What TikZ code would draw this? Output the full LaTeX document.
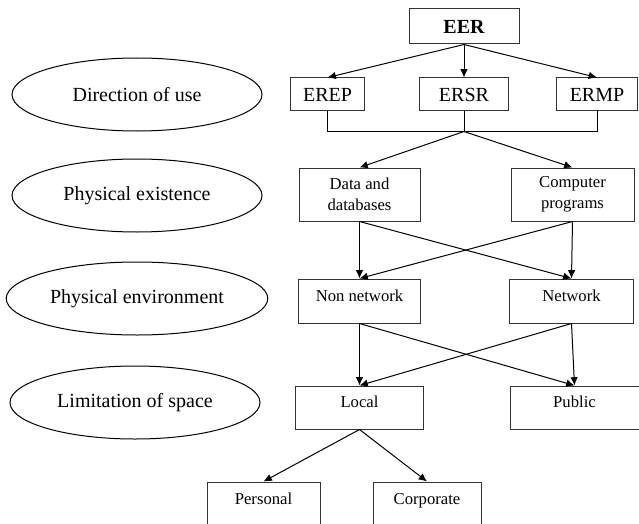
\documentclass[tikz,border=0pt]{standalone}
\usepackage{fontspec}
\setmainfont{Liberation Serif}
\usetikzlibrary{positioning}
\usetikzlibrary{shapes.geometric, arrows.meta}

\tikzset{
	box/.style={draw=black!80, rectangle},
	topbox/.style={box, font=\fontsize{12}{14}\selectfont, minimum height=19.8pt},
	midbox/.style={box, font=\fontsize{10}{12.6}\selectfont},
	lowbox/.style={midbox, text height=7pt, text depth=7pt},
	oval/.style={draw, ellipse, font=\fontsize{12}{14}\selectfont,
		minimum width=150pt, minimum height=43.8pt},
	arr/.style={-{Latex[length=5pt,width=4.5pt]}}
}

\begin{document}
\begin{tikzpicture}[x=0.6pt, y=-0.6pt, line width=0.6pt]
			\useasboundingbox (0,0) rectangle (639,523);

			% Left column
			\node [oval] (use) at (137,94.5) {Direction of use};
			\node [oval] (exist) at (137,195.5) {Physical existence};
			\node [oval] (env) at (137,298.5) {Physical environment};
			\node [oval] (space) at (135,402.5) {Limitation of space};

			% EER
			\node [topbox,
				font=\fontsize{12}{14}\selectfont\bfseries,
				minimum width=66pt,
				minimum height=21pt
				] (eer) at (464,26.5) {EER};

			% Direction of use
			\node [topbox,
				minimum width=53.4pt,
				below=19.8pt of eer
				] (ersr) {ERSR};
			\node [topbox,
				minimum width=44.4pt,
				left=32.4pt of ersr
				] (erep) {EREP};
			\node [topbox,
				minimum width=48.6pt,
				right=28.2pt of ersr
				] (ermp) {ERMP};

			% Physical existence
			\node [midbox,
				align=center,
				minimum width=72.6pt,
				minimum height=31.8pt
				] (data) at (359.5,194.5) {Data and\\databases};
			\node [midbox,
				align=center,
				minimum width=73.8pt,
				minimum height=31.8pt,
				right=54pt of data
				] (prog) {Computer\\programs};

			% Physical environment
			\node [lowbox,
				minimum width=73.2pt,
				minimum height=26.4pt,
				below=34.2pt of data
				] (nonnet) {Non network};
			\node [lowbox,
				minimum width=74.4pt,
				minimum height=26.4pt,
				right=52.8pt of nonnet
				] (net) {Network};

			% Limitation of space
			\node [lowbox,
				minimum width=76.8pt,
				minimum height=25.8pt,
				below=37.2pt of nonnet
				] (local) {Local};
			\node [lowbox,
				minimum width=77.4pt,
				minimum height=25.8pt,
				right=51.3pt of local
				] (public) {Public};

			% Kinds of local
			\node [lowbox,
				text depth=8.4pt,
				minimum width=67.8pt,
				minimum height=28.8pt
				] (personal) at (263.5,506) {Personal};
			\node [lowbox,
				text depth=8.4pt,
				minimum width=64.8pt,
				minimum height=28.8pt
				] (corporate) at (427,506) {Corporate};

			% Arrows
			\draw[arr] (eer.south) -- (erep.north);
			\draw[arr] (eer.south) -- (ersr.north);
			\draw[arr] (eer.south) -- (ermp.north);

			\path (ersr.south) ++(0,20) coordinate (join);
			\draw (erep.south) |- (join) -| (ermp.south);
			\draw (ersr.south) -- (join);
			\draw[arr] (join) -- (data.north);
			\draw[arr] (join) -- (prog.north);

			\draw[arr] (data.south) -- (nonnet.north);
			\draw[arr] (data.south) -- (net.north);
			\draw[arr] (prog.south) -- (net.north);
			\draw[arr] (prog.south) -- (nonnet.north);

			\draw[arr] (nonnet.south) -- (local.north);
			\draw[arr] (nonnet.south) -- (public.north);
			\draw[arr] (net.south) -- (public.north);
			\draw[arr] (net.south) -- (local.north);

			\draw[arr] (local.south) -- (personal.north);
			\draw[arr] (local.south) -- (corporate.north);

		\end{tikzpicture}
\end{document}
